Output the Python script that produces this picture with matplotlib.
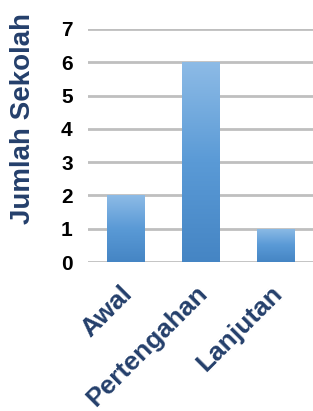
import numpy as np
import matplotlib.pyplot as plt
import matplotlib.transforms as mtransforms
from matplotlib.colors import LinearSegmentedColormap

# data
categories = ["Awal", "Pertengahan", "Lanjutan"]
values = [2, 6, 1]
yticks = [0, 1, 2, 3, 4, 5, 6, 7]

navy = "#243F6B"
plt.rcParams["font.family"] = ["Liberation Sans", "DejaVu Sans"]
plt.rcParams["font.weight"] = "bold"

fig = plt.figure(figsize=(3.13, 4.11), dpi=100)
ax = fig.add_axes([0.281, 0.3625, 0.719, 0.567])

x = np.arange(len(categories))
bars = ax.bar(x, values, width=0.5, color="#5B9BD5", edgecolor="#4F8CC9",
              linewidth=0.6, zorder=2)

# vertical gradient fill, lighter at the top
cmap = LinearSegmentedColormap.from_list("bar", ["#4585C4", "#5A9AD6", "#8DBBE6"])
grad = np.linspace(0, 1, 256).reshape(-1, 1)
for b in bars:
    x0, y0 = b.get_x(), b.get_y()
    im = ax.imshow(grad, cmap=cmap, origin="lower", aspect="auto",
                   extent=[x0, x0 + b.get_width(), y0, y0 + b.get_height()],
                   zorder=2.5)
    im.set_clip_path(b)

ax.set_xlim(-0.5, 2.5)
ax.set_ylim(0, 7)
ax.set_yticks(yticks)
ax.yaxis.grid(True, color="#BFBFBF", linewidth=2, zorder=1)
ax.set_axisbelow(True)
for s in ax.spines.values():
    s.set_visible(False)
ax.tick_params(length=0)
ax.tick_params(axis="y", labelsize=15, pad=11, labelcolor="black")

ax.set_xticks(x)
ax.set_xticklabels(categories, rotation=45, ha="right", va="top",
                   rotation_mode="anchor", fontsize=19, color=navy)
ax.tick_params(axis="x", pad=14)
shift = mtransforms.ScaledTranslation(-5 / 100, 0, fig.dpi_scale_trans)
for lbl in ax.get_xticklabels():
    lbl.set_transform(lbl.get_transform() + shift)

ax.set_ylabel("Jumlah Sekolah", fontsize=20, color=navy, fontweight="bold")
ax.yaxis.set_label_coords(-0.232, 0.615)

fig.savefig("out.png", dpi=100)
